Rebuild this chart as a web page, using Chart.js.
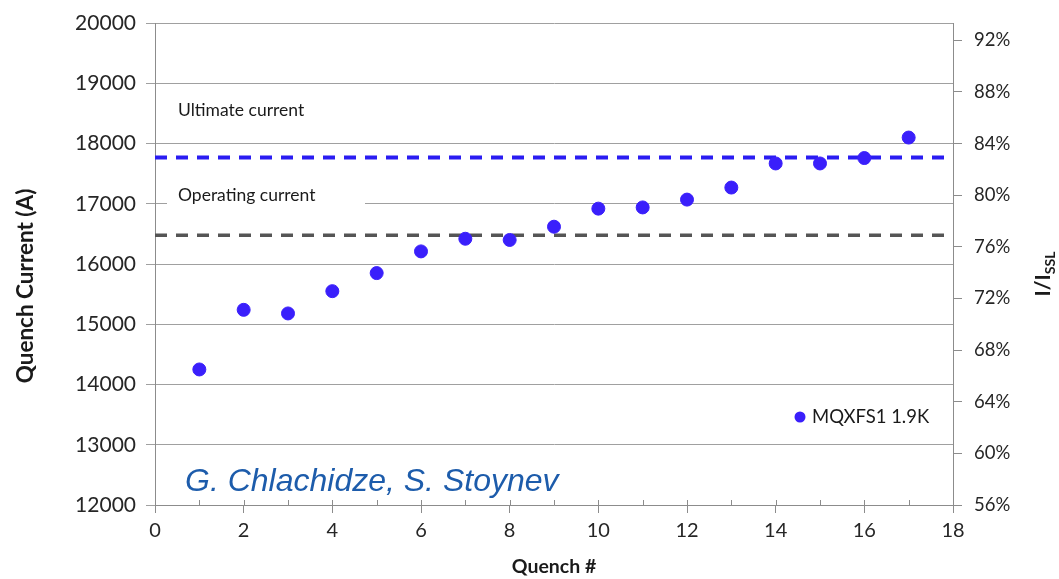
<!DOCTYPE html>
<html>
<head>
<meta charset="utf-8">
<script src="https://cdn.jsdelivr.net/npm/chart.js@4.4.1/dist/chart.umd.min.js"></script>
<style>
  html, body { margin: 0; padding: 0; background: #ffffff; }
  #wrap { width: 1059px; height: 579px; position: relative; }
</style>
</head>
<body>
<div id="wrap"><canvas id="chart" width="1059" height="579"></canvas></div>
<script>
// Quench training history, MQXFS1 at 1.9 K
const quenchNumbers = [1, 2, 3, 4, 5, 6, 7, 8, 9, 10, 11, 12, 13, 14, 15, 16, 17];
const quenchCurrents = [14250, 15240, 15180, 15550, 15850, 16210, 16420, 16400, 16620,
                        16920, 16940, 17070, 17270, 17670, 17670, 17760, 18100];

// Reference current levels (A)
const ultimateCurrent = 17770;
const operatingCurrent = 16480;

// Axis tick values
const xTicks = [0, 2, 4, 6, 8, 10, 12, 14, 16, 18];
const xMinorTicks = [1, 3, 5, 7, 9, 11, 13, 15, 17];
const currentTicks = [12000, 13000, 14000, 15000, 16000, 17000, 18000, 19000, 20000];
const ratioTicks = [56, 60, 64, 68, 72, 76, 80, 84, 88, 92];
const ratioMax = 93.33;

const seriesLabel = 'MQXFS1 1.9K';
const pointColor = '#3a1ffb';

const points = quenchNumbers.map((q, i) => ({ x: q, y: quenchCurrents[i] }));
const xRange = [xTicks[0], xTicks[xTicks.length - 1]];

// Extra drawing: minor x ticks, inner halves of major x ticks, text labels, legend, axis titles
const decorations = {
  id: 'decorations',
  beforeDatasetsDraw(chart) {
    const { ctx, chartArea: a } = chart;
    // white box behind the "Operating current" label (hides the grid line)
    ctx.save();
    ctx.fillStyle = '#ffffff';
    ctx.fillRect(a.left + 12, 182, 198, 28);
    ctx.restore();
  },
  afterDraw(chart) {
    const { ctx, chartArea: a } = chart;
    const xs = chart.scales.x;
    ctx.save();
    ctx.strokeStyle = '#8c8c8c';
    ctx.lineWidth = 1;
    ctx.beginPath();
    xMinorTicks.forEach(v => {
      const px = Math.round(xs.getPixelForValue(v)) + 0.5;
      ctx.moveTo(px, a.bottom - 5);
      ctx.lineTo(px, a.bottom);
    });
    xTicks.forEach(v => {
      const px = Math.round(xs.getPixelForValue(v)) + 0.5;
      ctx.moveTo(px, a.bottom - 5);
      ctx.lineTo(px, a.bottom);
    });
    ctx.stroke();

    // line labels
    ctx.fillStyle = '#1a1a1a';
    ctx.font = '17.5px Lato';
    ctx.textBaseline = 'middle';
    ctx.textAlign = 'left';
    ctx.fillText('Ultimate current', a.left + 23, 110);
    ctx.fillText('Operating current', a.left + 23, 195);

    // authors
    ctx.fillStyle = '#1d5cab';
    ctx.font = 'italic 32px "Liberation Sans"';
    ctx.fillText('G. Chlachidze, S. Stoynev', a.left + 30, 482);

    // legend
    const ds = chart.data.datasets[0];
    ctx.fillStyle = ds.backgroundColor;
    ctx.beginPath();
    ctx.arc(800, 417, 5.5, 0, Math.PI * 2);
    ctx.fill();
    ctx.fillStyle = '#1a1a1a';
    ctx.font = '18.5px Lato';
    ctx.fillText(ds.label, 812, 417);

    // axis titles
    ctx.font = 'bold 19.5px Lato';
    ctx.textAlign = 'center';
    ctx.fillText('Quench #', (a.left + a.right) / 2, 567);

    ctx.save();
    ctx.translate(26, 286);
    ctx.rotate(-Math.PI / 2);
    ctx.font = 'bold 22.5px Lato';
    ctx.fillText('Quench Current (A)', 0, 0);
    ctx.restore();

    // right title: I/I with SSL subscript
    ctx.save();
    ctx.translate(1050, 274);
    ctx.rotate(-Math.PI / 2);
    ctx.textAlign = 'left';
    ctx.textBaseline = 'alphabetic';
    ctx.font = 'bold 21px Lato';
    const main = 'I/I';
    const wMain = ctx.measureText(main).width;
    ctx.font = 'bold 14px Lato';
    const wSub = ctx.measureText('SSL').width;
    const start = -(wMain + wSub) / 2;
    ctx.font = 'bold 21px Lato';
    ctx.fillText(main, start, 0);
    ctx.font = 'bold 14px Lato';
    ctx.fillText('SSL', start + wMain, 5);
    ctx.restore();
    ctx.restore();
  }
};

new Chart(document.getElementById('chart'), {
  type: 'scatter',
  data: {
    datasets: [
      {
        label: seriesLabel,
        data: points,
        backgroundColor: pointColor,
        borderColor: pointColor,
        pointRadius: 6.5,
        pointHoverRadius: 6.5,
        order: 0
      },
      {
        label: 'Ultimate current',
        data: xRange.map(x => ({ x, y: ultimateCurrent })),
        showLine: true,
        borderColor: '#2a1cf2',
        borderWidth: 4,
        borderDash: [12, 9],
        pointRadius: 0,
        order: 1
      },
      {
        label: 'Operating current',
        data: xRange.map(x => ({ x, y: operatingCurrent })),
        showLine: true,
        borderColor: '#555555',
        borderWidth: 3.5,
        borderDash: [12, 9],
        pointRadius: 0,
        order: 1
      }
    ]
  },
  options: {
    responsive: false,
    animation: false,
    layout: { padding: { top: 21, left: 0, right: 0, bottom: 0 } },
    plugins: { legend: { display: false }, tooltip: { enabled: false } },
    scales: {
      x: {
        type: 'linear',
        min: xRange[0],
        max: xRange[1],
        afterBuildTicks: s => { s.ticks = xTicks.map(v => ({ value: v })); },
        afterFit: s => { s.height = 74; },
        grid: { drawOnChartArea: false, color: '#8c8c8c', tickLength: 8 },
        border: { color: '#8c8c8c' },
        ticks: { color: '#262626', font: { family: 'Lato', size: 20 }, padding: 6, maxRotation: 0 }
      },
      y: {
        position: 'left',
        min: currentTicks[0],
        max: currentTicks[currentTicks.length - 1],
        afterBuildTicks: s => { s.ticks = currentTicks.map(v => ({ value: v })); },
        afterFit: s => { s.width = 155; },
        grid: { color: '#a0a0a0', tickLength: 9 },
        border: { color: '#8c8c8c' },
        ticks: { color: '#262626', font: { family: 'Lato', size: 21 }, padding: 10, callback: v => String(v) }
      },
      y2: {
        position: 'right',
        min: ratioTicks[0],
        max: ratioMax,
        afterBuildTicks: s => { s.ticks = ratioTicks.map(v => ({ value: v })); },
        afterFit: s => { s.width = 106; },
        grid: { drawOnChartArea: false, color: '#8c8c8c', tickLength: 9 },
        border: { color: '#8c8c8c' },
        ticks: { color: '#262626', font: { family: 'Lato', size: 18.5 }, padding: 12, callback: v => v + '%' }
      }
    }
  },
  plugins: [decorations]
});
</script>
</body>
</html>
